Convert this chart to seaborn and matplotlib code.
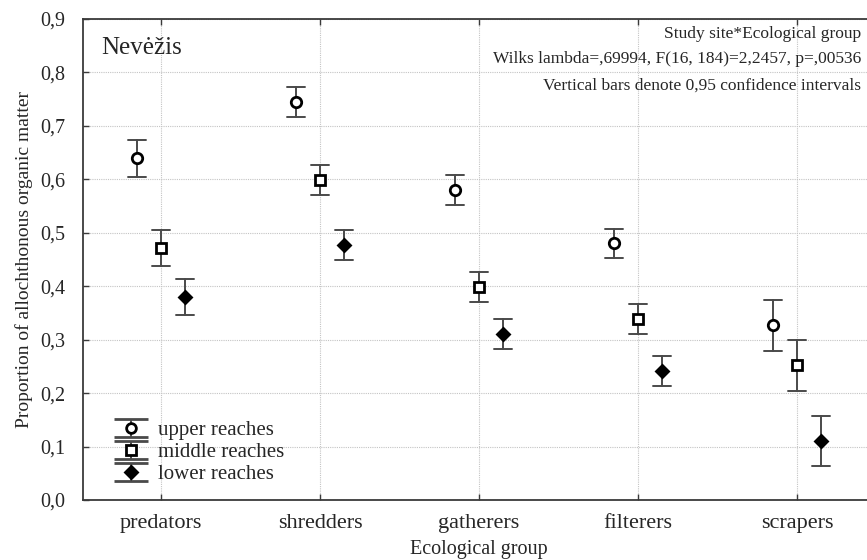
import numpy as np
import pandas as pd
import matplotlib
matplotlib.use("Agg")
import matplotlib.pyplot as plt
from matplotlib.container import ErrorbarContainer
from matplotlib.legend_handler import HandlerErrorbar
import seaborn as sns

# Ecological groups and reach categories
groups = ["predators", "shredders", "gatherers", "filterers", "scrapers"]
reaches = ["upper reaches", "middle reaches", "lower reaches"]

# Means with lower / upper 95% confidence limits
upper_mean = [0.639, 0.745, 0.580, 0.480, 0.327]
upper_lo = [0.605, 0.717, 0.552, 0.452, 0.279]
upper_hi = [0.673, 0.773, 0.608, 0.508, 0.374]

middle_mean = [0.471, 0.598, 0.398, 0.338, 0.252]
middle_lo = [0.437, 0.570, 0.370, 0.310, 0.204]
middle_hi = [0.506, 0.626, 0.426, 0.366, 0.299]

lower_mean = [0.380, 0.478, 0.311, 0.242, 0.110]
lower_lo = [0.346, 0.450, 0.283, 0.214, 0.063]
lower_hi = [0.413, 0.506, 0.339, 0.270, 0.158]

yticks = [0.0, 0.1, 0.2, 0.3, 0.4, 0.5, 0.6, 0.7, 0.8, 0.9]

# Long-form table: each cell holds its lower limit, mean and upper limit,
# so the median is the mean and the min..max span is the interval.
series = {
    "upper reaches": (upper_lo, upper_mean, upper_hi),
    "middle reaches": (middle_lo, middle_mean, middle_hi),
    "lower reaches": (lower_lo, lower_mean, lower_hi),
}
rows = []
for reach, (lo, mid, hi) in series.items():
    for g, a, b, c in zip(groups, lo, mid, hi):
        for v in (a, b, c):
            rows.append({"group": g, "reach": reach, "value": v})
df = pd.DataFrame(rows)

sns.set_theme(style="white")
plt.rcParams["font.family"] = ["Liberation Serif", "DejaVu Serif"]

fig = plt.figure(figsize=(8.67, 5.6), dpi=100)
ax = fig.add_axes([83 / 867, 60 / 560, (875 - 83) / 867, 481 / 560])

markers = ["o", "s", "D"]
err_color = "#4a4a4a"
sns.pointplot(
    data=df, x="group", y="value", hue="reach",
    order=groups, hue_order=reaches,
    estimator=np.median, errorbar=lambda v: (v.min(), v.max()),
    dodge=0.3, markers=markers, linestyles="none",
    palette=["black"] * 3, capsize=0.11,
    err_kws={"linewidth": 1.4, "color": err_color},
    markersize=7.5, markeredgewidth=2.0,
    legend=False, ax=ax,
)

# Open symbols for upper and middle reaches
for ln in ax.lines:
    m = ln.get_marker()
    if m in ("o", "s"):
        ln.set_markerfacecolor("white")
        ln.set_zorder(5)
    elif m == "D":
        ln.set_markersize(6.5)
        ln.set_zorder(5)

ax.set_xlim(-0.49, 4.49)
ax.set_ylim(0, 0.9)
ax.set_yticks(yticks)
ax.set_yticklabels([f"{t:.1f}".replace(".", ",") for t in yticks])

ax.grid(True, linestyle=(0, (1, 1)), color="#c4c4c4", linewidth=0.8)
ax.set_axisbelow(True)
for s in ax.spines.values():
    s.set_color("#3a3a3a")
    s.set_linewidth(1.3)

ax.tick_params(axis="both", which="both", direction="in", length=4,
               width=1.0, color="#3a3a3a", top=True, right=True,
               bottom=True, left=True)
ax.tick_params(axis="x", labelsize=16, pad=10)
ax.tick_params(axis="y", labelsize=14.5, pad=13)

ax.set_xlabel("Ecological group", fontsize=14.5, labelpad=5)
ax.set_ylabel("Proportion of allochthonous organic matter", fontsize=14, labelpad=5)

ax.text(0.023, 0.94, "Nevėžis", transform=ax.transAxes, fontsize=18,
        ha="left", va="center")

stat_x = 861 / 867
fig.text(stat_x, 1 - 34 / 560, "Study site*Ecological group", fontsize=12.5,
         ha="right", va="center")
fig.text(stat_x, 1 - 59 / 560,
         "Wilks lambda=,69994, F(16, 184)=2,2457, p=,00536", fontsize=12.5,
         ha="right", va="center")
fig.text(stat_x, 1 - 86 / 560, "Vertical bars denote 0,95 confidence intervals",
         fontsize=12.5, ha="right", va="center")

# Legend entries drawn as error-bar symbols
handles = []
for reach, mk in zip(reaches, markers):
    h = ax.errorbar([np.nan], [np.nan], yerr=[np.nan], fmt=mk, color="black",
                    ecolor=err_color,
                    mfc="white" if mk != "D" else "black", mec="black",
                    ms=7 if mk != "D" else 6.5, mew=2.0, capsize=12,
                    elinewidth=1.4, capthick=1.4)
    handles.append(h)
ax.legend(handles, reaches, loc="lower left", bbox_to_anchor=(0.013, 0.002),
          frameon=False, fontsize=15, handlelength=2.2, handletextpad=0.22,
          labelspacing=0.12, borderaxespad=0.3,
          handler_map={ErrorbarContainer: HandlerErrorbar(xerr_size=0.5,
                                                          yerr_size=0.42)})

fig.savefig("out.png", dpi=100)
